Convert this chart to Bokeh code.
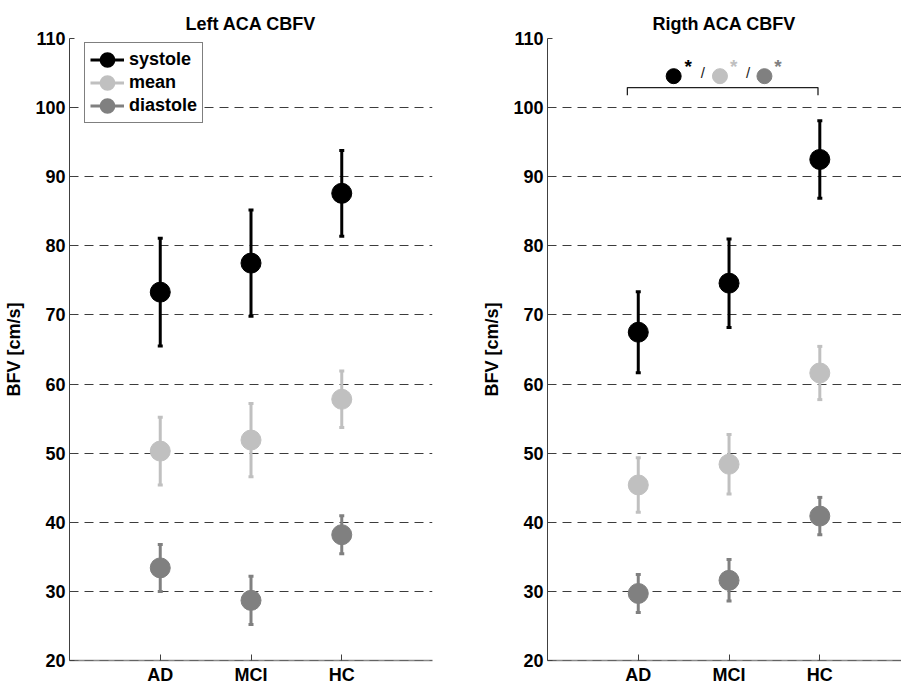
from bokeh.plotting import figure
from bokeh.layouts import row
from bokeh.models import (ColumnDataSource, Whisker, TeeHead, FixedTicker, Legend,
                          LegendItem, Span, Range1d)
from bokeh.core.properties import value
from bokeh.embed import file_html
from bokeh.resources import INLINE

# ---------------- data ----------------
groups = ["AD", "MCI", "HC"]
group_pos = [1, 2, 3]
series_names = ["systole", "mean", "diastole"]
series_colors = ["#000000", "#c0c0c0", "#808080"]
y_ticks = [20, 30, 40, 50, 60, 70, 80, 90, 100, 110]

left_systole = [73.3, 77.5, 87.6]
left_systole_err = [7.8, 7.7, 6.2]
left_mean = [50.3, 51.9, 57.8]
left_mean_err = [4.9, 5.3, 4.1]
left_diastole = [33.4, 28.7, 38.2]
left_diastole_err = [3.4, 3.5, 2.75]

right_systole = [67.5, 74.6, 92.5]
right_systole_err = [5.85, 6.4, 5.6]
right_mean = [45.4, 48.4, 61.6]
right_mean_err = [3.95, 4.3, 3.85]
right_diastole = [29.7, 31.6, 40.9]
right_diastole_err = [2.75, 3.0, 2.7]

# significance annotation (right panel)
sig_dot_x = [1.39, 1.90, 2.39]
sig_dot_y = [104.55, 104.55, 104.55]
sig_star_x = [1.55, 2.05, 2.54]
sig_star_y = [106.0, 106.0, 106.0]
sig_slash_x = [1.71, 2.21]
sig_slash_y = [105.1, 105.1]
bracket_x = [0.88, 0.88, 2.98, 2.98]
bracket_y = [101.8, 102.9, 102.9, 101.8]

FONT = "Liberation Sans"
FSIZE = "18px"
GRID = "#3c3c3c"
NAN = float("nan")


def make_panel(title, series, width, x_end, border_right, with_legend=False):
    p = figure(width=width, height=687, x_range=Range1d(0, x_end), y_range=Range1d(20, 110),
               toolbar_location=None, output_backend="svg", title=title,
               min_border_left=69, min_border_right=border_right,
               min_border_top=38, min_border_bottom=26)
    p.outline_line_color = None
    p.background_fill_color = "white"
    p.border_fill_color = "white"

    p.title.align = "center"
    p.title.text_font = FONT
    p.title.text_font_style = "bold"
    p.title.text_font_size = FSIZE
    p.title.text_color = "black"

    p.xgrid.visible = False
    p.ygrid.ticker = FixedTicker(ticks=y_ticks)
    p.ygrid.grid_line_color = GRID
    p.ygrid.grid_line_dash = "9 6"
    p.ygrid.grid_line_width = 1.2

    ya = p.yaxis[0]
    ya.ticker = FixedTicker(ticks=y_ticks)
    ya.major_tick_in = 5
    ya.major_tick_out = 0
    ya.minor_tick_line_color = None
    ya.axis_line_color = "#404040"
    ya.major_tick_line_color = "#404040"
    ya.major_label_standoff = 4
    ya.major_label_text_font = FONT
    ya.major_label_text_font_style = "bold"
    ya.major_label_text_font_size = FSIZE
    ya.major_label_text_color = "black"
    ya.axis_label = "BFV [cm/s]"
    ya.axis_label_text_font = FONT
    ya.axis_label_text_font_style = "bold"
    ya.axis_label_text_font_size = FSIZE
    ya.axis_label_text_color = "black"
    ya.axis_label_standoff = 8

    xa = p.xaxis[0]
    xa.ticker = FixedTicker(ticks=group_pos)
    xa.major_label_overrides = dict(zip(group_pos, groups))
    xa.major_tick_in = 6
    xa.major_tick_out = 0
    xa.minor_tick_line_color = None
    xa.major_tick_line_color = "#404040"
    xa.axis_line_color = "#8a8a8a"
    xa.axis_line_width = 1.5
    xa.major_label_standoff = 4
    xa.major_label_text_font = FONT
    xa.major_label_text_font_style = "bold"
    xa.major_label_text_font_size = FSIZE
    xa.major_label_text_color = "black"

    p.add_layout(Span(location=20, dimension="width", line_color=GRID,
                      line_dash="9 6", line_width=1.2, level="overlay"))

    items = []
    for name, (vals, errs), color in zip(series_names, series, series_colors):
        src = ColumnDataSource(dict(
            x=group_pos, y=vals,
            upper=[v + e for v, e in zip(vals, errs)],
            lower=[v - e for v, e in zip(vals, errs)]))
        w = Whisker(source=src, base="x", upper="upper", lower="lower",
                    line_color=color, line_width=3,
                    upper_head=TeeHead(size=5, line_color=color, line_width=3),
                    lower_head=TeeHead(size=5, line_color=color, line_width=3))
        p.add_layout(w)
        p.scatter("x", "y", source=src, size=20, fill_color=color, line_color=color)
        if with_legend:
            # legend-only renderers (no visible data points)
            lr = p.line(x=[NAN], y=[NAN], line_color=color, line_width=3)
            sr = p.scatter(x=[NAN], y=[NAN], fill_color=color, line_color=color,
                           line_width=6.5)
            items.append(LegendItem(label=name, renderers=[lr, sr]))

    if with_legend:
        leg = Legend(items=items, location=(15, 537), glyph_width=34, glyph_height=23,
                     label_height=20, spacing=0, padding=5, label_standoff=5, margin=0,
                     border_line_color="black", border_line_width=1,
                     background_fill_color="white", background_fill_alpha=1.0,
                     label_text_font=FONT, label_text_font_style="bold",
                     label_text_font_size=FSIZE, label_text_color="black")
        p.add_layout(leg)
    return p


left = make_panel("Left ACA CBFV",
                  [(left_systole, left_systole_err), (left_mean, left_mean_err),
                   (left_diastole, left_diastole_err)],
                  width=478, x_end=4, border_right=46, with_legend=True)

right = make_panel("Rigth ACA CBFV",
                   [(right_systole, right_systole_err), (right_mean, right_mean_err),
                    (right_diastole, right_diastole_err)],
                   width=423, x_end=3.9, border_right=0)

# significance annotation
right.line(bracket_x, bracket_y, line_color="#202020", line_width=1.3)
dots = ColumnDataSource(dict(x=sig_dot_x, y=sig_dot_y, c=series_colors))
right.scatter("x", "y", source=dots, size=15, fill_color="c", line_color="c")
stars = ColumnDataSource(dict(x=sig_star_x, y=sig_star_y, c=series_colors, t=["*", "*", "*"]))
right.text("x", "y", text="t", source=stars, text_color="c", text_font=value(FONT),
           text_font_style="bold", text_font_size="19px", text_align="center",
           text_baseline="middle")
slashes = ColumnDataSource(dict(x=sig_slash_x, y=sig_slash_y, t=["/", "/"]))
right.text("x", "y", text="t", source=slashes, text_color="#202020", text_font=value(FONT),
           text_font_size="15px", text_align="center", text_baseline="middle")

layout = row(left, right)
open("out.html", "w").write(file_html(layout, INLINE))
